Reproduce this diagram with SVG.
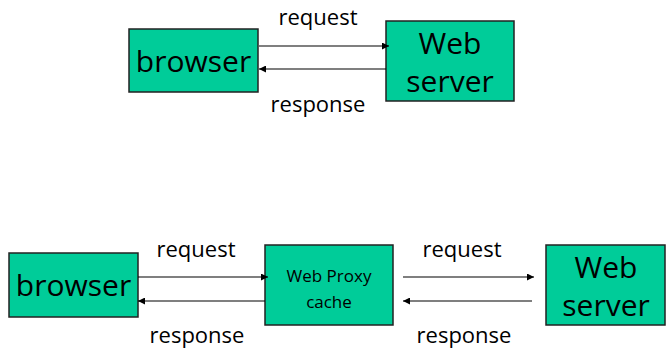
<svg xmlns="http://www.w3.org/2000/svg" width="666" height="351" viewBox="0 0 666 351">
<defs>
<style>
.box{fill:#00CC99;stroke:#222;stroke-width:1.5}
.big{font-family:"Open Sans","DejaVu Sans",sans-serif;font-size:30px;fill:#000;text-anchor:middle}
.small{font-family:"Open Sans","DejaVu Sans",sans-serif;font-size:17px;fill:#000;text-anchor:middle}
.lbl{font-family:"Open Sans","DejaVu Sans",sans-serif;font-size:22px;fill:#000;text-anchor:middle}
.conn{stroke:#000;stroke-width:1.2;fill:none;marker-end:url(#ah)}
</style>
<marker id="ah" viewBox="0 0 10 10" refX="10" refY="5" markerWidth="7" markerHeight="7" orient="auto" markerUnits="userSpaceOnUse">
<path d="M0,0 L10,5 L0,10 z" fill="#000"/>
</marker>
</defs>
<rect width="666" height="351" fill="#fff"/>
<g id="top-browser"><rect class="box" x="129" y="29" width="129" height="63"/><text class="big" x="193.5" y="72">browser</text></g>
<g id="top-webserver"><rect class="box" x="386" y="21" width="128" height="80"/><text class="big" x="450" y="54">Web</text><text class="big" x="450" y="92">server</text></g>
<g id="bot-browser"><rect class="box" x="9" y="253" width="129" height="64"/><text class="big" x="73.5" y="296">browser</text></g>
<g id="bot-proxy"><rect class="box" x="265" y="245" width="128" height="80"/><text class="small" x="329" y="282">Web Proxy</text><text class="small" x="329" y="308">cache</text></g>
<g id="bot-webserver"><rect class="box" x="546" y="245" width="119" height="80"/><text class="big" x="606" y="278">Web</text><text class="big" x="606" y="316">server</text></g>
<g id="connectors">
<line class="conn" x1="259" y1="46" x2="389" y2="46"/>
<line class="conn" x1="386" y1="69" x2="259" y2="69"/>
<line class="conn" x1="138" y1="277" x2="268" y2="277"/>
<line class="conn" x1="265" y1="301" x2="138" y2="301"/>
<line class="conn" x1="403" y1="277" x2="534" y2="277"/>
<line class="conn" x1="532" y1="301" x2="403" y2="301"/>
<text class="lbl" x="318" y="25">request</text>
<text class="lbl" x="318" y="112">response</text>
<text class="lbl" x="196" y="257">request</text>
<text class="lbl" x="197" y="343">response</text>
<text class="lbl" x="462" y="257">request</text>
<text class="lbl" x="464" y="343">response</text>
</g>
</svg>
